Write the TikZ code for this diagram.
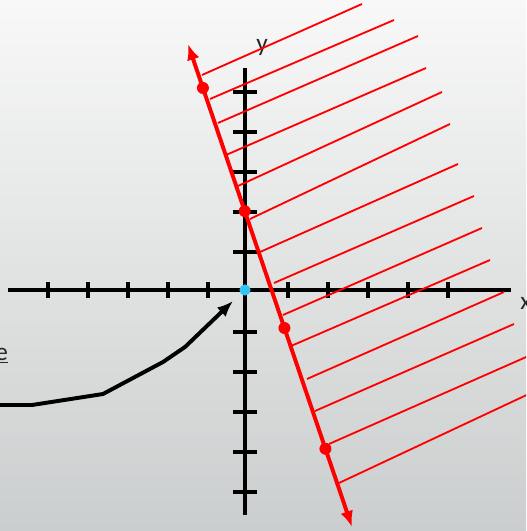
\documentclass[tikz,border=0pt]{standalone}
\usepackage{fontspec}
\setmainfont{Carlito}
\usetikzlibrary{arrows.meta,positioning,calc}
\definecolor{bgtop}{RGB}{248,248,248}
\definecolor{bgbot}{RGB}{203,206,206}
\definecolor{ptblue}{RGB}{51,196,245}
\tikzset{ltip/.tip={Latex[length=4mm,width=3.2mm]}}

\begin{document}
\begin{tikzpicture}[>=Latex,font=\fontsize{18}{21}\selectfont]
\tikzstyle{ax}=[line width=3.4pt]
\tikzstyle{tk}=[line width=2.3pt]
\tikzstyle{ht}=[red,line width=1.3pt]
\tikzstyle{dot}=[circle,fill=red,inner sep=0pt,minimum size=0.3cm]
\useasboundingbox (-6.125,-6.025) rectangle (7.025,7.25);
\shade[top color=bgtop,bottom color=bgbot] (-6.125,-6.025) rectangle (7.025,7.25);
\clip (-6.125,-6.025) rectangle (7.025,7.25);
\draw[ax] (-5.925,0) -- (6.65,0);
\draw[ax] (0,-5.625) -- (0,5.55);
\foreach \i in {-5,...,-1,1,2,...,5} {
 \draw[tk] (\i+0.075,-0.2) -- (\i+0.075,0.2);
 \draw[tk] (-0.3,\i-0.05) -- (0.3,\i-0.05);
}
\node[anchor=base,text=black!85] (ylab) at (0.425,5.95) {y};
\node[anchor=base west,text=black!85,inner sep=0pt] (xlab) at (6.875,-0.475) {x};
\foreach \a/\b/\c/\d in {-1.075/5.375/2.925/7.15, -0.875/4.775/3.725/6.75, -0.675/4.175/4.325/6.35,
 -0.475/3.375/4.525/5.55, -0.175/2.6/4.925/4.95, 0.125/1.775/5.125/4.15, 0.375/0.95/5.325/3.15,
 0.725/0.175/5.725/2.35, 0.95/-0.625/5.925/1.55, 1.15/-1.4/6.125/0.75, 1.55/-2.225/6.475/-0.05,
 1.75/-3.025/6.725/-0.85, 2.1/-3.85/7.2/-1.6, 2.35/-4.825/7.2/-2.55}
 \draw[ht] (\a,\b) -- (\c,\d);
\coordinate (top) at (-1.425,6.15);
\coordinate (bot) at (2.675,-5.925);
\draw[red,line width=2.8pt,ltip-ltip] (top) -- (bot);
\node[dot] (p1) at ($(top)!0.091!(bot)$) {};
\node[dot] (p2) at ($(top)!0.346!(bot)$) {};
\node[dot] (p3) at ($(top)!0.588!(bot)$) {};
\node[dot] (p4) at ($(top)!0.838!(bot)$) {};
\node[circle,fill=ptblue,inner sep=0pt,minimum size=0.28cm] (o) at (0,0) {};
\node[anchor=base east,inner sep=0pt,text=black!85] (lbl) at (-5.92,-1.75) {\underline{e}};
\coordinate (s) at (-6.3,-2.875);
\draw[line width=2.8pt,-ltip] (s) -- (-5.325,-2.875) -- (-3.55,-2.6) -- (-2.05,-1.8) -- (-1.5,-1.425) -- ([shift={(-0.3,-0.275)}]o.center);
\end{tikzpicture}
\end{document}
